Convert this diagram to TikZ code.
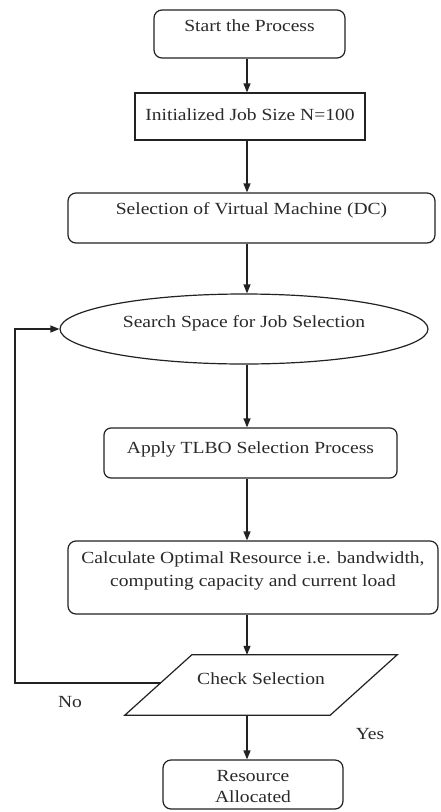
\documentclass[tikz,border=0pt]{standalone}
\usepackage{fontspec}
\setmainfont[FakeStretch=1.15]{Liberation Serif}
\usetikzlibrary{arrows.meta,shapes.geometric,calc}
\definecolor{ink}{HTML}{222222}
\definecolor{txt}{HTML}{2A2A2A}
\tikzset{
  base/.style={inner sep=0pt, text=txt, align=center,
    font=\fontsize{17}{20.4}\selectfont, text height=0pt, text depth=0pt},
  rbox/.style={base, draw=ink, line width=1.2pt, rounded corners=8pt},
  sbox/.style={base, draw=ink, line width=1.2pt},
  oval/.style={base, draw=ink, line width=1.2pt, ellipse},
  flow/.style={draw=ink, line width=1.2pt, -{Triangle[length=9pt,width=7pt]}},
  tag/.style={inner sep=0pt, text=txt, anchor=base, font=\fontsize{17}{20.4}\selectfont}
}
\begin{document}
\begin{tikzpicture}[x=1pt,y=-1pt]
  \fill[white] (0,0) rectangle (440,812);
  \useasboundingbox (0,0) rectangle (440,812);

  % column of the vertical connectors and of the return loop
  \coordinate (ax) at (247,0);
  \coordinate (loopx) at (15,0);

  \node[rbox, minimum width=191pt, minimum height=48pt, text depth=6pt]
    (start) at (249.5,34) {Start the Process};
  \node[sbox, minimum width=230pt, minimum height=47pt, text height=7pt]
    (init) at (250,116.5) {Initialized Job Size N=100};
  \node[rbox, minimum width=367pt, minimum height=50pt, text depth=8pt]
    (vm) at (251.5,218) {Selection of Virtual Machine (DC)};
  \node[oval, minimum width=368pt, minimum height=70pt, text depth=4pt]
    (search) at (244,329) {Search Space for Job Selection};
  \node[rbox, rounded corners=7pt, minimum width=293pt, minimum height=50pt]
    (tlbo) at (250.5,453) {Apply TLBO Selection Process};
  \node[rbox, minimum width=370pt, minimum height=73pt, text height=18pt]
    (calc) at (253,577.5) {Calculate Optimal Resource i.e. bandwidth,\\[3pt]
      computing capacity and current load};
  \node[base, minimum width=272pt, minimum height=60pt, text depth=2pt]
    (chk) at (261,685) {Check Selection};
  \node[rbox, minimum width=180pt, minimum height=49pt, text height=35pt]
    (res) at (253,784.5) {Resource\\Allocated};

  % slanted outline of the decision box
  \coordinate (pA) at ($(chk.north west)+(67,0)$);
  \coordinate (pC) at ($(chk.south east)-(67,0)$);
  \draw[ink, line width=1.2pt, line join=miter]
    (pA) -- (chk.north east) -- (pC) -- (chk.south west) -- cycle;
  \coordinate (noOut) at ($(chk.south west)!0.5333!(pA)$);

  % main flow
  \draw[flow] (start.south -| ax) -- (init.north -| ax);
  \draw[flow] (init.south -| ax) -- (vm.north -| ax);
  \draw[flow] (vm.south -| ax) -- (search.north -| ax);
  \draw[flow] (search.south -| ax) -- (tlbo.north -| ax);
  \draw[flow] (tlbo.south -| ax) -- (calc.north -| ax);
  \draw[flow] (calc.south -| ax) -- (chk.north -| ax);
  \draw[flow] (chk.south -| ax) -- (res.north -| ax);

  % return loop for a rejected selection
  \draw[flow] (noOut) -- (noOut -| loopx) |- (search.west);

  \node[tag] (no) at (70,707) {No};
  \node[tag] (yes) at (370,739) {Yes};
\end{tikzpicture}
\end{document}
